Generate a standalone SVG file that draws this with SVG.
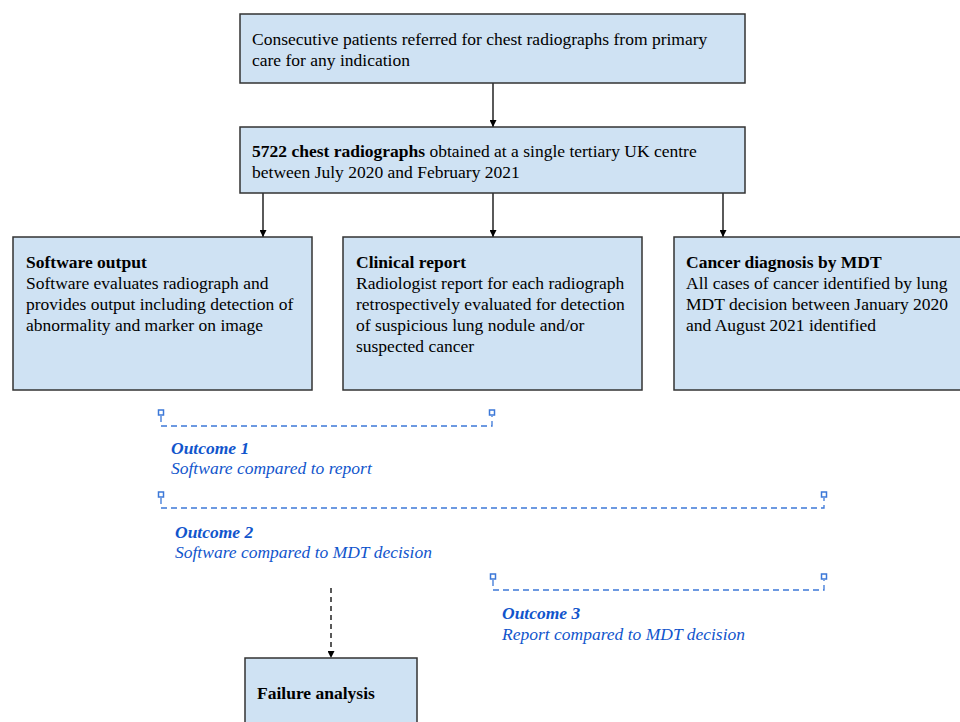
<svg xmlns="http://www.w3.org/2000/svg" width="960" height="722" viewBox="0 0 960 722">
<defs>
<style>
.box{fill:#cfe2f3;stroke:#333333;stroke-width:1.5}
.t{font-family:"Liberation Serif","Times New Roman",serif;font-size:17.5px;fill:#000}
.b{font-weight:bold}
.o{font-family:"Liberation Serif","Times New Roman",serif;font-size:17.5px;fill:#1155cc;font-style:italic}
.conn{stroke:#000;stroke-width:1.3;fill:none}
.br{stroke:#3c78d8;stroke-width:1.3;fill:none;stroke-dasharray:6,4}
.sq{fill:#fff;stroke:#3c78d8;stroke-width:1.5}
</style>
<marker id="ah" viewBox="0 0 10 10" refX="10" refY="5" markerWidth="7" markerHeight="7" markerUnits="userSpaceOnUse" orient="auto">
<path d="M0,0 L10,5 L0,10 z" fill="#000"/>
</marker>
</defs>
<rect width="960" height="722" fill="#fff"/>
<g id="connectors">
<path class="conn" d="M493,83 V127" marker-end="url(#ah)"/>
<path class="conn" d="M263,193 V237" marker-end="url(#ah)"/>
<path class="conn" d="M493,193 V237" marker-end="url(#ah)"/>
<path class="conn" d="M723,193 V237" marker-end="url(#ah)"/>
<path class="conn" d="M331,588 V658" stroke-dasharray="5,4" marker-end="url(#ah)"/>
</g>
<g id="n1"><rect class="box" x="240" y="14" width="505" height="69"/>
<text class="t" x="252" y="45">Consecutive patients referred for chest radiographs from primary</text>
<text class="t" x="252" y="66">care for any indication</text></g>
<g id="n2"><rect class="box" x="240" y="127" width="505" height="66"/>
<text class="t" x="252" y="157"><tspan class="b">5722 chest radiographs</tspan> obtained at a single tertiary UK centre</text>
<text class="t" x="252" y="178">between July 2020 and February 2021</text></g>
<g id="n3"><rect class="box" x="13" y="237" width="299" height="153"/>
<text class="t b" x="26" y="268">Software output</text>
<text class="t" x="26" y="289">Software evaluates radiograph and</text>
<text class="t" x="26" y="310">provides output including detection of</text>
<text class="t" x="26" y="331">abnormality and marker on image</text></g>
<g id="n4"><rect class="box" x="343" y="237" width="299" height="153"/>
<text class="t b" x="356" y="268">Clinical report</text>
<text class="t" x="356" y="289">Radiologist report for each radiograph</text>
<text class="t" x="356" y="310">retrospectively evaluated for detection</text>
<text class="t" x="356" y="331">of suspicious lung nodule and/or</text>
<text class="t" x="356" y="352">suspected cancer</text></g>
<g id="n5"><rect class="box" x="674" y="237" width="300" height="153"/>
<text class="t b" x="686" y="268">Cancer diagnosis by MDT</text>
<text class="t" x="686" y="289">All cases of cancer identified by lung</text>
<text class="t" x="686" y="310">MDT decision between January 2020</text>
<text class="t" x="686" y="331">and August 2021 identified</text></g>
<g id="n6"><rect class="box" x="245" y="658" width="172" height="80"/>
<text class="t b" x="257" y="699">Failure analysis</text></g>
<g id="outcome1">
<path class="br" d="M161,416 V426 H492 V416"/>
<rect class="sq" x="158.5" y="410" width="5" height="5"/>
<rect class="sq" x="489.5" y="410" width="5" height="5"/>
<text class="o b" x="171" y="454">Outcome 1</text>
<text class="o" x="171" y="474">Software compared to report</text>
</g>
<g id="outcome2">
<path class="br" d="M161,498 V508 H824 V498"/>
<rect class="sq" x="158.5" y="492" width="5" height="5"/>
<rect class="sq" x="821.5" y="492" width="5" height="5"/>
<text class="o b" x="175" y="538">Outcome 2</text>
<text class="o" x="175" y="558">Software compared to MDT decision</text>
</g>
<g id="outcome3">
<path class="br" d="M493,580 V590 H824 V580"/>
<rect class="sq" x="490.5" y="574" width="5" height="5"/>
<rect class="sq" x="821.5" y="574" width="5" height="5"/>
<text class="o b" x="502" y="619">Outcome 3</text>
<text class="o" x="502" y="640">Report compared to MDT decision</text>
</g>
</svg>
